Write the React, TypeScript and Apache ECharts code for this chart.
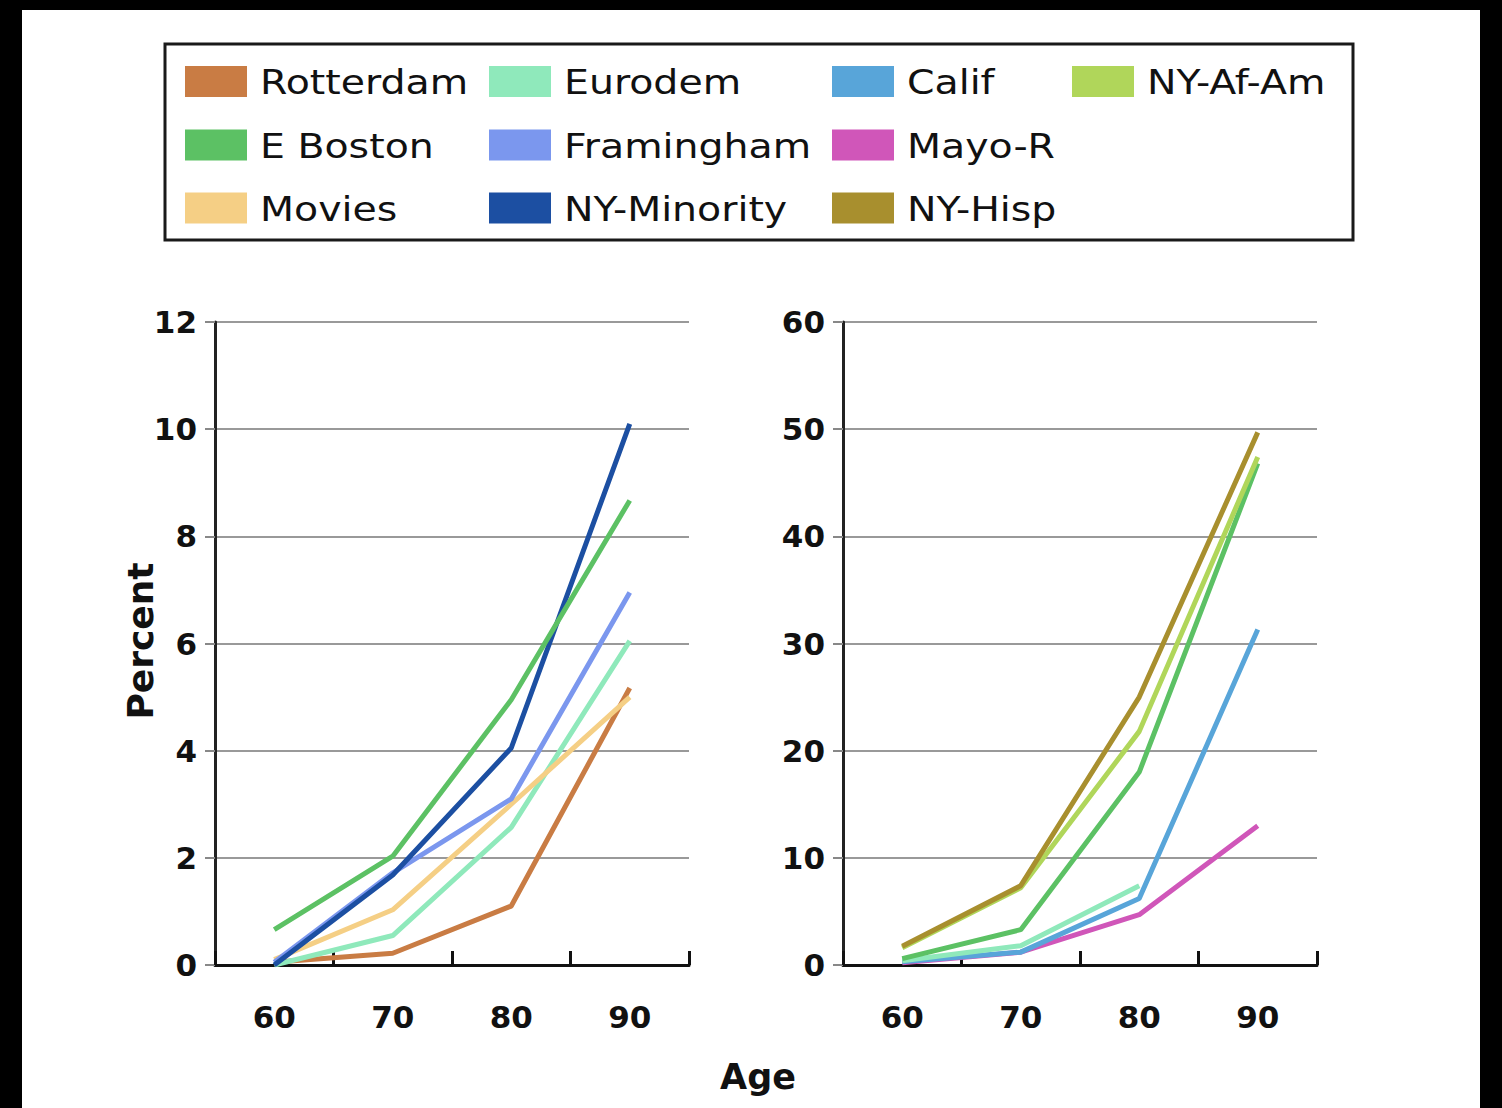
import React, { useEffect, useRef } from "react";
import * as echarts from "echarts";

const ages = ["60", "70", "80", "90"];

// Left panel (0–12 %)
const rotterdamL = [0.05, 0.22, 1.1, 5.17];
const eurodemL = [0.0, 0.55, 2.57, 6.05];
const eBostonL = [0.66, 2.03, 4.95, 8.67];
const framinghamL = [0.05, 1.72, 3.1, 6.95];
const moviesL = [0.1, 1.03, 3.0, 5.0];
const nyMinorityL = [0.0, 1.68, 4.05, 10.1];

// Right panel (0–60 %)
const mayoR = [0.2, 1.2, 4.7, 13.0];
const califR = [0.3, 1.2, 6.2, 31.3];
const eurodemR = [0.4, 1.8, 7.4, null];
const eBostonR = [0.6, 3.3, 18.0, 46.8];
const nyAfAmR = [1.6, 7.2, 21.8, 47.4];
const nyHispR = [1.75, 7.4, 25.0, 49.7];

const colors: Record<string, string> = {
  Rotterdam: "#c97c44",
  Eurodem: "#8fe9bb",
  Calif: "#58a5d9",
  "NY-Af-Am": "#b0d65a",
  "E Boston": "#5cc164",
  Framingham: "#7b97ee",
  "Mayo-R": "#d056b9",
  Movies: "#f5cf85",
  "NY-Minority": "#1c4fa2",
  "NY-Hisp": "#a88f2e",
};

const legendCols = [
  ["Rotterdam", "E Boston", "Movies"],
  ["Eurodem", "Framingham", "NY-Minority"],
  ["Calif", "Mayo-R", "NY-Hisp"],
  ["NY-Af-Am"],
];
const legendLeft = [185, 489, 832, 1072];
const legendRowY = [81.5, 145, 208];

export default function App() {
  const ref = useRef<HTMLDivElement>(null);
  useEffect(() => {
    if (!ref.current) return;
    const chart = echarts.init(ref.current, null, { renderer: "svg" });
    const line = (name: string, data: (number | null)[], idx: number) => ({
      type: "line",
      name,
      data,
      xAxisIndex: idx,
      yAxisIndex: idx,
      symbol: "none",
      lineStyle: { width: 5, color: colors[name] },
      itemStyle: { color: colors[name] },
      color: colors[name],
    });
    const xAxisBase = (gi: number) => ({
      type: "category",
      gridIndex: gi,
      data: ages,
      boundaryGap: true,
      axisLine: { show: true, lineStyle: { color: "#111", width: 3 } },
      axisTick: { show: true, inside: true, length: 14, lineStyle: { color: "#111", width: 3 } },
      axisLabel: {
        margin: 36,
        fontFamily: "DejaVu Sans",
        fontWeight: "bold",
        fontSize: 31,
        color: "#111",
      },
    });
    const yAxisBase = (gi: number, max: number, interval: number) => ({
      type: "value",
      gridIndex: gi,
      min: 0,
      max,
      interval,
      axisLine: { show: true, lineStyle: { color: "#222", width: 3 } },
      axisTick: { show: true, inside: false, length: 10, lineStyle: { color: "#888", width: 2 } },
      splitLine: { show: true, lineStyle: { color: "#999", width: 2 } },
      axisLabel: {
        margin: 18,
        fontFamily: "DejaVu Sans",
        fontWeight: "bold",
        fontSize: 31,
        color: "#111",
      },
    });

    const legendGraphics: any[] = [];
    legendCols.forEach((col, ci) => {
      col.forEach((name, ri) => {
        const cy = legendRowY[ri];
        legendGraphics.push({
          type: "rect",
          shape: { x: legendLeft[ci], y: cy - 15.5, width: 62, height: 31 },
          style: { fill: colors[name] },
        });
        legendGraphics.push({
          type: "text",
          x: legendLeft[ci] + 75,
          y: cy + 1,
          scaleX: 1.16,
          style: {
            text: name,
            fontFamily: "DejaVu Sans",
            fontSize: 34,
            fill: "#111",
            align: "left",
            verticalAlign: "middle",
          },
        });
      });
    });

    chart.setOption({
      animation: false,
      backgroundColor: "#000",
      graphic: [
        { type: "rect", z: -10, shape: { x: 22, y: 10, width: 1458, height: 1098 }, style: { fill: "#fff" } },
        {
          type: "rect",
          z: -5,
          shape: { x: 165, y: 44, width: 1188, height: 196 },
          style: { fill: "#fff", stroke: "#1a1a1a", lineWidth: 3 },
        },
        ...legendGraphics,
        {
          type: "text",
          x: 758,
          y: 1077,
          style: {
            text: "Age",
            fontFamily: "DejaVu Sans",
            fontWeight: "bold",
            fontSize: 35,
            fill: "#111",
            align: "center",
            verticalAlign: "middle",
          },
        },
        {
          type: "text",
          x: 140,
          y: 641,
          rotation: Math.PI / 2,
          style: {
            text: "Percent",
            fontFamily: "DejaVu Sans",
            fontWeight: "bold",
            fontSize: 36,
            fill: "#111",
            align: "center",
            verticalAlign: "middle",
          },
        },
      ],
      grid: [
        { left: 215, top: 322, width: 474, height: 643 },
        { left: 843, top: 322, width: 474, height: 643 },
      ],
      xAxis: [xAxisBase(0), xAxisBase(1)],
      yAxis: [yAxisBase(0, 12, 2), yAxisBase(1, 60, 10)],
      series: [
        line("Rotterdam", rotterdamL, 0),
        line("Eurodem", eurodemL, 0),
        line("Movies", moviesL, 0),
        line("Framingham", framinghamL, 0),
        line("NY-Minority", nyMinorityL, 0),
        line("E Boston", eBostonL, 0),
        line("Mayo-R", mayoR, 1),
        line("Calif", califR, 1),
        line("Eurodem", eurodemR, 1),
        line("E Boston", eBostonR, 1),
        line("NY-Af-Am", nyAfAmR, 1),
        line("NY-Hisp", nyHispR, 1),
      ],
    });
    return () => chart.dispose();
  }, []);
  return (
    <div
      ref={ref}
      style={{ position: "fixed", left: 0, top: 0, width: 1502, height: 1108 }}
    />
  );
}
